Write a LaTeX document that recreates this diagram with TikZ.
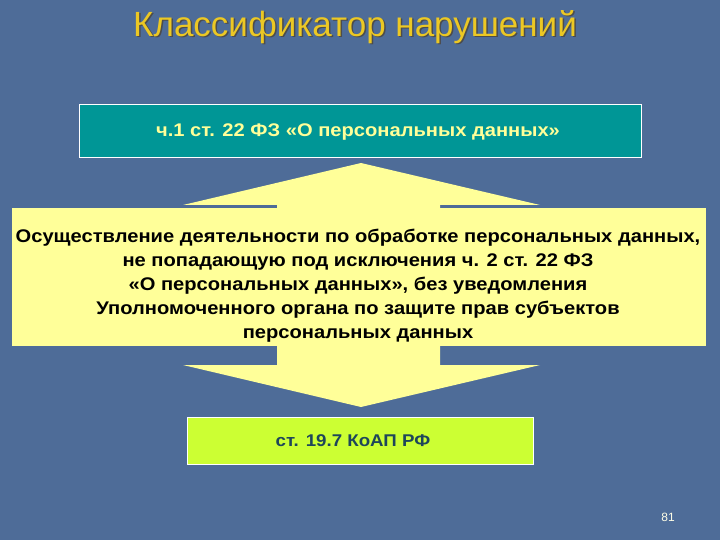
\documentclass[tikz,border=0pt]{standalone}
\usepackage{fontspec}
\setmainfont{Liberation Sans}
\newfontfamily\widefont[FakeStretch=1.1]{Liberation Sans}
\definecolor{bgblue}{RGB}{78,108,152}
\definecolor{titleyellow}{RGB}{236,200,36}
\definecolor{boxteal}{RGB}{0,150,150}
\definecolor{paleyellow}{RGB}{255,255,153}
\definecolor{limegreen}{RGB}{204,255,51}
\definecolor{darkteal}{RGB}{30,70,90}
\tikzset{
  lawbox/.style={draw=white,line width=0.8pt,inner sep=0pt,align=center},
  arrowbody/.style={fill=paleyellow},
  bigtext/.style={font=\widefont\bfseries\fontsize{18.3}{24}\selectfont}
}

\begin{document}
\begin{tikzpicture}[x=1pt,y=-1pt]

\fill[bgblue] (0,0) rectangle (720,540);
\useasboundingbox (0,0) rectangle (720,540);

% title with shadow
\node[text=black!70,font=\fontsize{35}{40}\selectfont] (titleshadow) at (356.5,28.5) {Классификатор нарушений};
\node[text=titleyellow,font=\fontsize{35}{40}\selectfont] (title) at (355,27) {Классификатор нарушений};

% up and down arrows
\fill[arrowbody] (277,210) -- (277,205) -- (183,205) -- (361,163) -- (540,205) -- (440,205) -- (440,210) -- cycle;
\fill[arrowbody] (277,344) -- (277,365) -- (183,365) -- (361,407) -- (540,365) -- (440,365) -- (440,344) -- cycle;

\node[lawbox,fill=boxteal,minimum width=562,minimum height=53] (law) at (360,130.5) {};
\node[text=paleyellow,bigtext] (lawtext) at (358,132) {ч.1 ст. 22 ФЗ «О персональных данных»};

\node[fill=paleyellow,inner sep=0pt,minimum width=694,minimum height=138] (act) at (359,277) {};
\node[align=center,bigtext] (acttext) at (358,286)
  {Осуществление деятельности по обработке персональных данных,\\
   не попадающую под исключения ч. 2 ст. 22 ФЗ\\
   «О персональных данных», без уведомления\\
   Уполномоченного органа по защите прав субъектов\\
   персональных данных};

\node[lawbox,fill=limegreen,minimum width=346,minimum height=47] (koap) at (360,440.5) {};
\node[text=darkteal,font=\widefont\bfseries\fontsize{17}{20}\selectfont] (koaptext) at (353,441)
  {ст. 19.7 КоАП РФ};

\node[text=white!90!yellow,font=\fontsize{12}{14}\selectfont] (page) at (668,517) {81};

\end{tikzpicture}
\end{document}
